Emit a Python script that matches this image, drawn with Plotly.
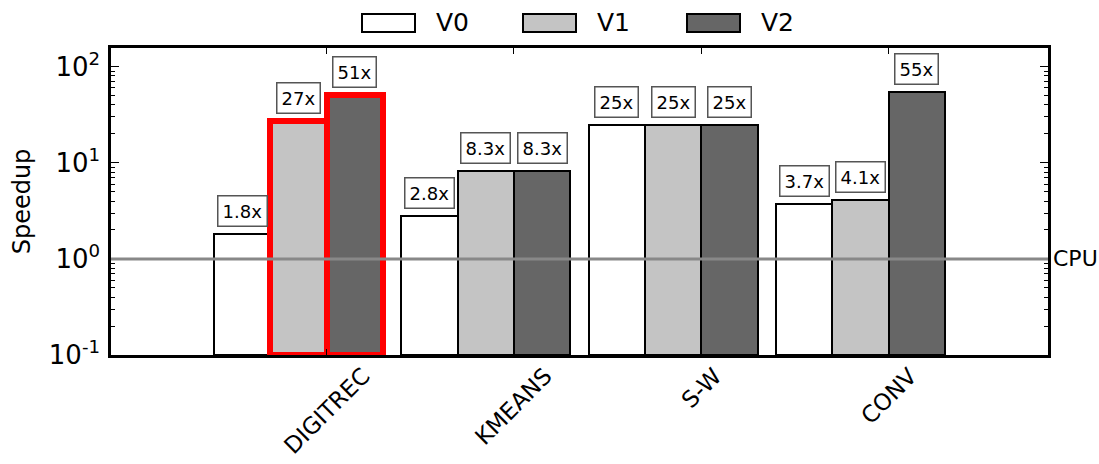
import math
import plotly.graph_objects as go

# ---- data ----
categories = ["DIGITREC", "KMEANS", "S-W", "CONV"]
series_names = ["V0", "V1", "V2"]
v0 = [1.8, 2.8, 25, 3.7]
v1 = [27, 8.3, 25, 4.1]
v2 = [51, 8.3, 25, 55]
series_values = [v0, v1, v2]
highlighted = [(1, 0), (2, 0)]  # (series index, category index) outlined in red
y_tick_vals = [0.1, 1, 10, 100]
y_tick_text = ["10<sup>-1</sup>", "10<sup>0</sup>", "10<sup>1</sup>", "10<sup>2</sup>"]
cpu_baseline = 1
cpu_label = "CPU"
y_title = "Speedup"

# ---- style ----
FONT = "DejaVu Sans"
series_colors = ["#ffffff", "#c4c4c4", "#666666"]
cat_pos = [i + 1 for i in range(len(categories))]
offsets = [-0.45, -0.15, 0.15]
BAR_W = 0.3
Y_MIN = 0.1
W, H = 1099, 464
ML, MR, MT, MB = 111, 51, 48, 109

fig = go.Figure()
for s, (name, vals) in enumerate(zip(series_names, series_values)):
    line_colors = ["red" if (s, c) in highlighted else "black" for c in range(len(vals))]
    line_widths = [6 if (s, c) in highlighted else 2 for c in range(len(vals))]
    fig.add_trace(go.Bar(
        x=[p + offsets[s] for p in cat_pos],
        y=[v - Y_MIN for v in vals],
        base=[Y_MIN] * len(vals),
        width=BAR_W,
        name=name,
        marker=dict(color=series_colors[s], line=dict(color=line_colors, width=line_widths)),
        showlegend=False,
        cliponaxis=False,
        hoverinfo="skip",
    ))
    # value labels
    for c, v in enumerate(vals):
        fig.add_annotation(
            x=cat_pos[c] + offsets[s], xref="x",
            y=math.log10(v), yref="y",
            text=f"{v:g}x", showarrow=False,
            yanchor="bottom", xanchor="center", yshift=7,
            font=dict(family=FONT, size=18, color="black"),
            bgcolor="white", bordercolor="#555555", borderwidth=1.5, borderpad=4,
        )

# CPU baseline
fig.add_shape(type="line", xref="paper", x0=0, x1=1, yref="y", y0=cpu_baseline, y1=cpu_baseline,
              line=dict(color="#888888", width=3), layer="above")
fig.add_annotation(xref="paper", x=1, xanchor="left", xshift=3, yref="y", y=math.log10(cpu_baseline),
                   text=cpu_label, showarrow=False, font=dict(family=FONT, size=22, color="black"))

# category labels (rotated, centered under ticks)
for c, name in enumerate(categories):
    fig.add_annotation(x=cat_pos[c], xref="x", y=0, yref="paper", yanchor="top", xanchor="center",
                       yshift=-5, text=name, textangle=-45, showarrow=False,
                       font=dict(family=FONT, size=23, color="black"))

# manual legend
plot_w = W - ML - MR
plot_h = H - MT - MB
def px_x(p):
    return (p - ML) / plot_w
def px_y(p):
    return 1 - (p - MT) / plot_h
leg_patch_x = [362, 523, 687]
for s, name in enumerate(series_names):
    x0 = leg_patch_x[s]
    fig.add_shape(type="rect", xref="paper", yref="paper",
                  x0=px_x(x0), x1=px_x(x0 + 53), y0=px_y(32), y1=px_y(14),
                  fillcolor=series_colors[s], line=dict(color="black", width=2))
    fig.add_annotation(xref="paper", yref="paper", x=px_x(x0 + 72), y=px_y(23), xanchor="left",
                       yanchor="middle", text=name, showarrow=False,
                       font=dict(family=FONT, size=25, color="black"))

fig.update_layout(
    width=W, height=H,
    margin=dict(l=ML, r=MR, t=MT, b=MB),
    paper_bgcolor="white", plot_bgcolor="white",
    bargap=0, barmode="overlay",
    font=dict(family=FONT, color="black"),
    xaxis=dict(range=[-0.15, 4.85], showgrid=False, zeroline=False, showline=True,
               linecolor="black", linewidth=2.5, mirror="ticks",
               tickvals=cat_pos, ticks="inside", ticklen=6, tickwidth=1, tickcolor="black",
               showticklabels=False),
    yaxis=dict(type="log", range=[-1, 2.194], showgrid=False, zeroline=False, showline=True,
               linecolor="black", linewidth=2.5, mirror="ticks",
               tickvals=y_tick_vals, ticktext=y_tick_text,
               ticks="inside", ticklen=8, tickwidth=1, tickcolor="black", ticklabelstandoff=3,
               tickfont=dict(family=FONT, size=26, color="black"),
               minor=dict(ticks="inside", ticklen=4, tickwidth=1, tickcolor="black", showgrid=False,
                          tickvals=[k * 10 ** e for e in (-1, 0, 1) for k in range(2, 10)]),
               title=dict(text=y_title, font=dict(family=FONT, size=24, color="black"), standoff=12)),
)

fig.write_html("out.html", config={"displayModeBar": False},
               post_script="document.body.style.margin='0';")
